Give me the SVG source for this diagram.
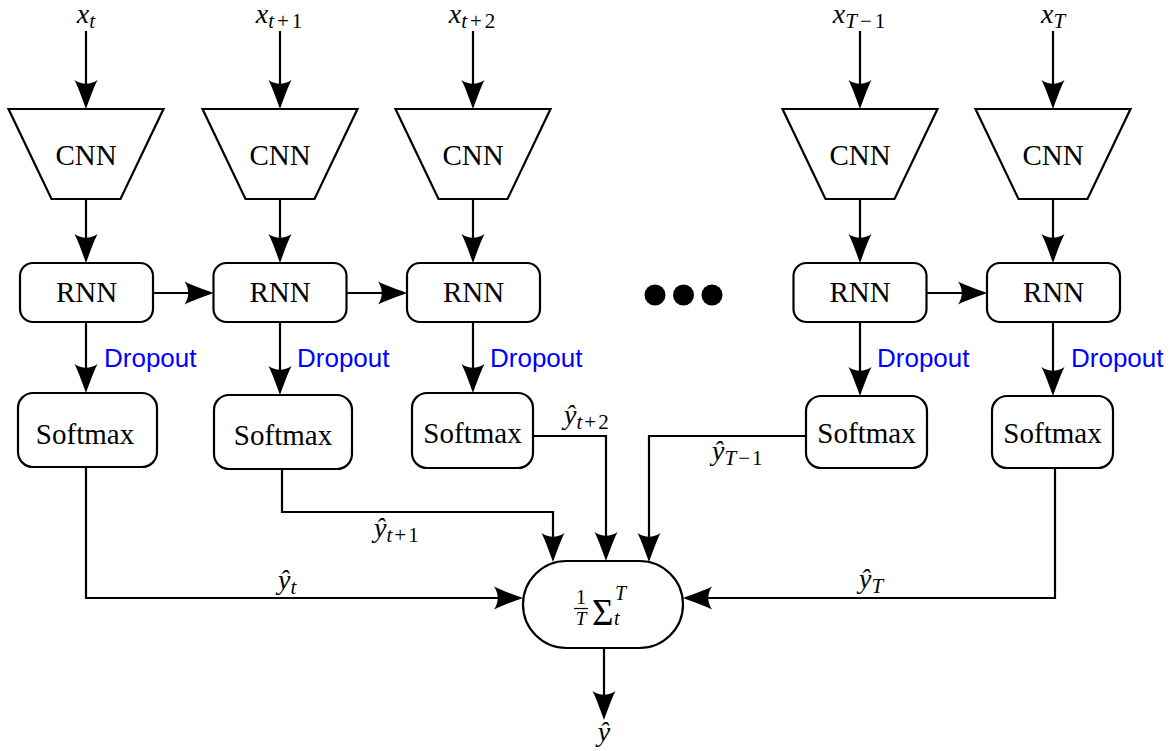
<svg xmlns="http://www.w3.org/2000/svg" width="1176" height="751" viewBox="0 0 1176 751">
<style>
.shape{fill:#fff;stroke:#000;stroke-width:2.2}
.lbl{font-family:"Liberation Serif",serif;font-size:29px;fill:#000;text-anchor:middle}
.math{font-family:"Liberation Serif",serif;font-size:28px;font-style:italic;fill:#000}
.sub{font-size:21px}
.up{font-style:normal}
.drop{font-family:"Liberation Sans",Arial,sans-serif;font-size:26px;fill:#0000ff}
.conn path{fill:none;stroke:#000;stroke-width:2.2}
</style>
<defs>
<marker id="ah" viewBox="-30 -13 32 26" refX="-8" refY="0" markerWidth="32" markerHeight="26" markerUnits="userSpaceOnUse" orient="auto">
<path d="M0,0 C-8,-3 -20,-7 -29,-11.5 C-24,-4 -24,4 -29,11.5 C-20,7 -8,3 0,0 Z" fill="#000"/>
</marker>
</defs>
<rect width="1176" height="751" fill="#fff"/>

<g id="inputs">
<text class="math" x="86" y="23" text-anchor="middle">x<tspan class="sub" dy="5">t</tspan></text>
<text class="math" x="279" y="23" text-anchor="middle">x<tspan class="sub" dy="5">t</tspan><tspan class="sub up" dx="3">+</tspan><tspan class="sub up" dx="3">1</tspan></text>
<text class="math" x="472" y="23" text-anchor="middle">x<tspan class="sub" dy="5">t</tspan><tspan class="sub up" dx="3">+</tspan><tspan class="sub up" dx="3">2</tspan></text>
<text class="math" x="859" y="23" text-anchor="middle">x<tspan class="sub" dy="5">T</tspan><tspan class="sub up" dx="3">−</tspan><tspan class="sub up" dx="3">1</tspan></text>
<text class="math" x="1053" y="23" text-anchor="middle">x<tspan class="sub" dy="5">T</tspan></text>
</g>

<g id="cnn1"><polygon class="shape" points="8.5,109 163.5,109 120.5,199 51.5,199"/><text class="lbl" x="86" y="165">CNN</text></g>
<g id="cnn2"><polygon class="shape" points="202.5,109 357.5,109 314.5,199 245.5,199"/><text class="lbl" x="280" y="165">CNN</text></g>
<g id="cnn3"><polygon class="shape" points="395.5,109 550.5,109 507.5,199 438.5,199"/><text class="lbl" x="473" y="165">CNN</text></g>
<g id="cnn4"><polygon class="shape" points="782.5,109 937.5,109 894.5,199 825.5,199"/><text class="lbl" x="860" y="165">CNN</text></g>
<g id="cnn5"><polygon class="shape" points="975.5,109 1130.5,109 1087.5,199 1018.5,199"/><text class="lbl" x="1053" y="165">CNN</text></g>

<g id="rnn1"><rect class="shape" x="20" y="263" width="133" height="59" rx="13"/><text class="lbl" x="86.5" y="302">RNN</text></g>
<g id="rnn2"><rect class="shape" x="213.5" y="263" width="133" height="59" rx="13"/><text class="lbl" x="280" y="302">RNN</text></g>
<g id="rnn3"><rect class="shape" x="407" y="263" width="133" height="59" rx="13"/><text class="lbl" x="473.5" y="302">RNN</text></g>
<g id="rnn4"><rect class="shape" x="793.5" y="263" width="133" height="59" rx="13"/><text class="lbl" x="860" y="302">RNN</text></g>
<g id="rnn5"><rect class="shape" x="987" y="263" width="133" height="59" rx="13"/><text class="lbl" x="1053.5" y="302">RNN</text></g>

<g id="dots">
<circle cx="655" cy="295" r="10.5" fill="#000"/>
<circle cx="683.5" cy="295" r="10.5" fill="#000"/>
<circle cx="712" cy="295" r="10.5" fill="#000"/>
</g>

<g id="softmax1"><rect class="shape" x="18" y="393" width="139" height="74" rx="15"/><text class="lbl" x="85" y="444">Softmax</text></g>
<g id="softmax2"><rect class="shape" x="214" y="395" width="138" height="74" rx="15"/><text class="lbl" x="283" y="445">Softmax</text></g>
<g id="softmax3"><rect class="shape" x="412" y="393" width="121" height="75" rx="15"/><text class="lbl" x="472.5" y="443">Softmax</text></g>
<g id="softmax4"><rect class="shape" x="806" y="396" width="121" height="72" rx="15"/><text class="lbl" x="866.5" y="443">Softmax</text></g>
<g id="softmax5"><rect class="shape" x="992" y="396" width="121" height="72" rx="15"/><text class="lbl" x="1052.5" y="443">Softmax</text></g>

<g id="sum">
<rect class="shape" x="523" y="561" width="160" height="87" rx="43.5"/>
<text class="lbl" x="581" y="604" style="font-size:20px">1</text>
<line x1="574" y1="608.5" x2="588" y2="608.5" stroke="#000" stroke-width="1.2"/>
<text class="math" x="581" y="625" text-anchor="middle" style="font-size:19px">T</text>
<text x="592" y="625" style="font-family:'Liberation Serif',serif;font-size:37px">Σ</text>
<text class="math" x="615" y="600" style="font-size:20px">T</text>
<text class="math" x="614" y="625" style="font-size:20px">t</text>
</g>

<g class="conn" id="connectors">
<path d="M86,31 V101" marker-end="url(#ah)"/>
<path d="M280,31 V101" marker-end="url(#ah)"/>
<path d="M473,31 V101" marker-end="url(#ah)"/>
<path d="M860,31 V101" marker-end="url(#ah)"/>
<path d="M1053,31 V101" marker-end="url(#ah)"/>

<path d="M86,199 V255" marker-end="url(#ah)"/>
<path d="M280,199 V255" marker-end="url(#ah)"/>
<path d="M473,199 V255" marker-end="url(#ah)"/>
<path d="M860,199 V255" marker-end="url(#ah)"/>
<path d="M1053,199 V255" marker-end="url(#ah)"/>

<path d="M153,293 H205.5" marker-end="url(#ah)"/>
<path d="M346.5,293 H399" marker-end="url(#ah)"/>
<path d="M926.5,293 H979" marker-end="url(#ah)"/>

<path d="M86,322 V385" marker-end="url(#ah)"/>
<path d="M280,322 V387" marker-end="url(#ah)"/>
<path d="M473,322 V385" marker-end="url(#ah)"/>
<path d="M860,322 V388" marker-end="url(#ah)"/>
<path d="M1053,322 V388" marker-end="url(#ah)"/>

<path d="M86,467 V598 H515" marker-end="url(#ah)"/>
<path d="M282,469 V512 H553 V554" marker-end="url(#ah)"/>
<path d="M533,436 H606 V553" marker-end="url(#ah)"/>
<path d="M806,436 H649 V554" marker-end="url(#ah)"/>
<path d="M1055,468 V598 H691" marker-end="url(#ah)"/>
<path d="M604,648 V712" marker-end="url(#ah)"/>
</g>

<g id="labels">
<text class="drop" x="104" y="367">Dropout</text>
<text class="drop" x="297" y="367">Dropout</text>
<text class="drop" x="490" y="367">Dropout</text>
<text class="drop" x="877" y="367">Dropout</text>
<text class="drop" x="1071" y="367">Dropout</text>

<text class="math" x="278" y="589">ŷ<tspan class="sub" dy="5">t</tspan></text>
<text class="math" x="374" y="537">ŷ<tspan class="sub" dy="5">t</tspan><tspan class="sub up" dx="2">+</tspan><tspan class="sub up" dx="2">1</tspan></text>
<text class="math" x="564" y="424">ŷ<tspan class="sub" dy="5">t</tspan><tspan class="sub up" dx="2">+</tspan><tspan class="sub up" dx="2">2</tspan></text>
<text class="math" x="712" y="460">ŷ<tspan class="sub" dy="5">T</tspan><tspan class="sub up" dx="2">−</tspan><tspan class="sub up" dx="2">1</tspan></text>
<text class="math" x="859" y="588">ŷ<tspan class="sub" dy="5">T</tspan></text>
<text class="math" x="604" y="741" text-anchor="middle">ŷ</text>
</g>
</svg>
